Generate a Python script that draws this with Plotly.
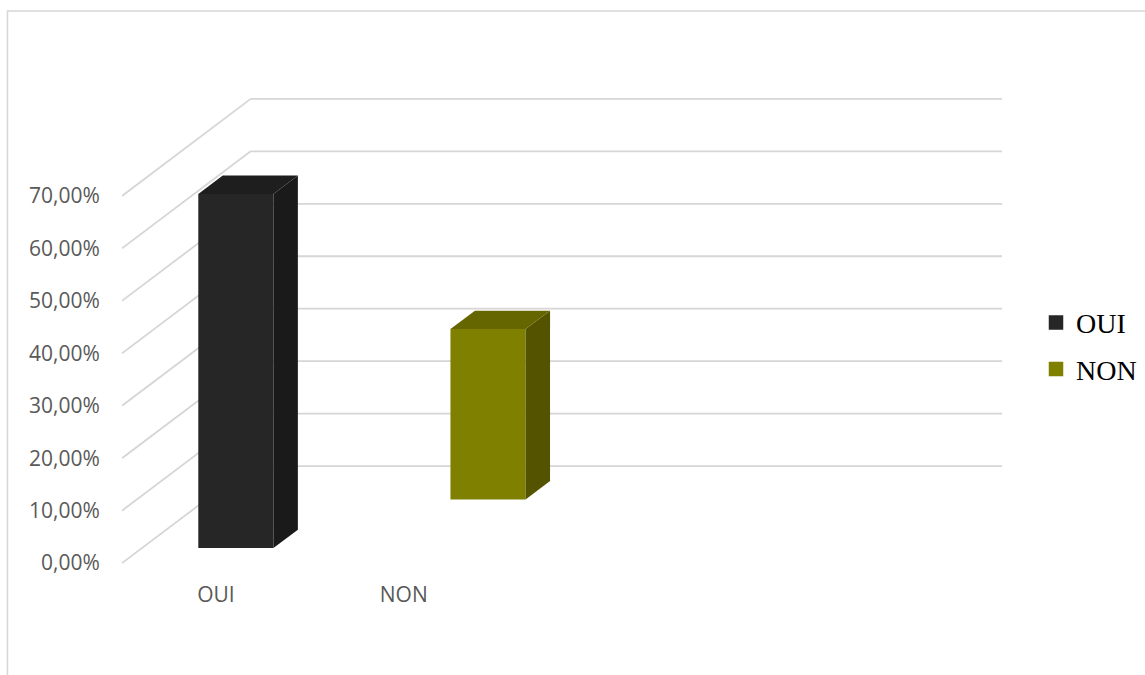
import plotly.graph_objects as go

# ---- data -------------------------------------------------------------
categories = ["OUI", "NON", "", ""]          # category slots along the floor
series_names = ["OUI", "NON"]
series_values = [[67.5, None, None, None],   # OUI (%)
                 [None, 32.5, None, None]]   # NON (%)
y_ticks = [0, 10, 20, 30, 40, 50, 60, 70]
y_tick_labels = ["0,00%", "10,00%", "20,00%", "30,00%",
                 "40,00%", "50,00%", "60,00%", "70,00%"]

# ---- styling ----------------------------------------------------------
front_colors = ["#262626", "#808000"]
side_colors = ["#1a1a1a", "#545400"]
top_colors = ["#1e1e1e", "#666600"]
grid_color = "#d6d6d6"

# oblique 3-D projection: depth 0..1 maps to a shift in (category, %) units
DX = 0.685      # horizontal shift of the full depth, in category units
DY = 18.5       # vertical shift of the full depth, in % units
BAR_W = 0.4     # bar width in category units
BAR_D = 0.19    # bar depth as a fraction of full depth

W, H = 1145, 675
ML, MR = 122, 143
Y0_PX, PX_PER_PCT = 563, 5.25
Y_LO, Y_HI = -1.5, 90.0
MB = H - (Y0_PX - Y_LO * PX_PER_PCT)
PLOT_H = (Y_HI - Y_LO) * PX_PER_PCT
MT = H - MB - PLOT_H
PLOT_W = W - ML - MR

n_cat = len(categories)
x_lo, x_hi = -0.5, n_cat - 0.5


def proj(cx, depth, val):
    return cx + depth * DX, val + depth * DY


def px_to_paper_x(px):
    return (px - ML) / PLOT_W


def px_to_paper_y(py):
    return (H - MB - py) / PLOT_H


fig = go.Figure()

# walls: side-wall diagonals and back-wall horizontals at each tick
shapes = []
for v in y_ticks:
    xa, ya = proj(x_lo, 0, v)
    xb, yb = proj(x_lo, 1, v)
    xc, yc = proj(x_hi, 1, v)
    shapes.append(dict(type="line", xref="x", yref="y", x0=xa, y0=ya, x1=xb, y1=yb,
                       line=dict(color=grid_color, width=1.8), layer="below"))
    shapes.append(dict(type="line", xref="x", yref="y", x0=xb, y0=yb, x1=xc, y1=yc,
                       line=dict(color=grid_color, width=1.8), layer="below"))

# chart-area border
shapes.append(dict(type="rect", xref="paper", yref="paper",
                   x0=px_to_paper_x(7.5), y0=px_to_paper_y(10.5),
                   x1=px_to_paper_x(W + 20), y1=px_to_paper_y(H + 20),
                   line=dict(color=grid_color, width=1.5), fillcolor="rgba(0,0,0,0)",
                   layer="below"))

# bars: one depth row per series
n_ser = len(series_names)
for s, name in enumerate(series_names):
    d_mid = (s + 0.5) / n_ser
    d_f, d_b = d_mid - BAR_D / 2, d_mid + BAR_D / 2
    xs, bases, heights = [], [], []
    for c, val in enumerate(series_values[s]):
        if val is None:
            continue
        fx, fy = proj(c, d_f, 0)
        xs.append(fx)
        bases.append(fy)
        heights.append(val)

        l, r = c - BAR_W / 2, c + BAR_W / 2
        # right side face
        p = [proj(r, d_f, 0), proj(r, d_b, 0), proj(r, d_b, val), proj(r, d_f, val)]
        fig.add_trace(go.Scatter(x=[q[0] for q in p] + [p[0][0]],
                                 y=[q[1] for q in p] + [p[0][1]],
                                 fill="toself", fillcolor=side_colors[s], mode="lines",
                                 line=dict(width=0, color=side_colors[s]),
                                 showlegend=False, hoverinfo="skip"))
        # top face
        p = [proj(l, d_f, val), proj(r, d_f, val), proj(r, d_b, val), proj(l, d_b, val)]
        fig.add_trace(go.Scatter(x=[q[0] for q in p] + [p[0][0]],
                                 y=[q[1] for q in p] + [p[0][1]],
                                 fill="toself", fillcolor=top_colors[s], mode="lines",
                                 line=dict(width=0, color=top_colors[s]),
                                 showlegend=False, hoverinfo="skip"))
    # front face
    fig.add_trace(go.Bar(x=xs, y=heights, base=bases, width=BAR_W, name=name,
                         marker=dict(color=front_colors[s], line=dict(width=0)),
                         legendgroup=name, showlegend=False))
    # legend entry: square swatch in the series colour
    fig.add_trace(go.Scatter(x=[None], y=[None], mode="markers", name=name,
                             marker=dict(symbol="square", size=14.5, color=front_colors[s]),
                             legendgroup=name, showlegend=True))

fig.update_layout(
    width=W, height=H,
    margin=dict(l=ML, r=MR, t=MT, b=MB, autoexpand=False),
    plot_bgcolor="white", paper_bgcolor="white",
    shapes=shapes,
    barmode="overlay",
    showlegend=True,
    legend=dict(x=px_to_paper_x(1036), xanchor="left",
                y=px_to_paper_y(345.5), yanchor="middle",
                font=dict(family="Liberation Serif", size=28, color="#000000"),
                traceorder="grouped", tracegroupgap=7, itemsizing="trace",
                bgcolor="rgba(0,0,0,0)"),
    xaxis=dict(range=[x_lo, x_hi + DX], tickvals=list(range(n_cat)),
               ticktext=categories, showgrid=False, zeroline=False, showline=False,
               ticks="outside", ticklen=5, tickcolor="rgba(0,0,0,0)",
               tickfont=dict(family="Open Sans", size=21, color="#595959"),
               fixedrange=True),
    yaxis=dict(range=[Y_LO, Y_HI], tickvals=y_ticks, ticktext=y_tick_labels,
               showgrid=False, zeroline=False, showline=False,
               ticks="outside", ticklen=17, tickcolor="rgba(0,0,0,0)",
               tickfont=dict(family="Open Sans", size=21, color="#595959"),
               fixedrange=True),
)

fig.write_html("out.html")
